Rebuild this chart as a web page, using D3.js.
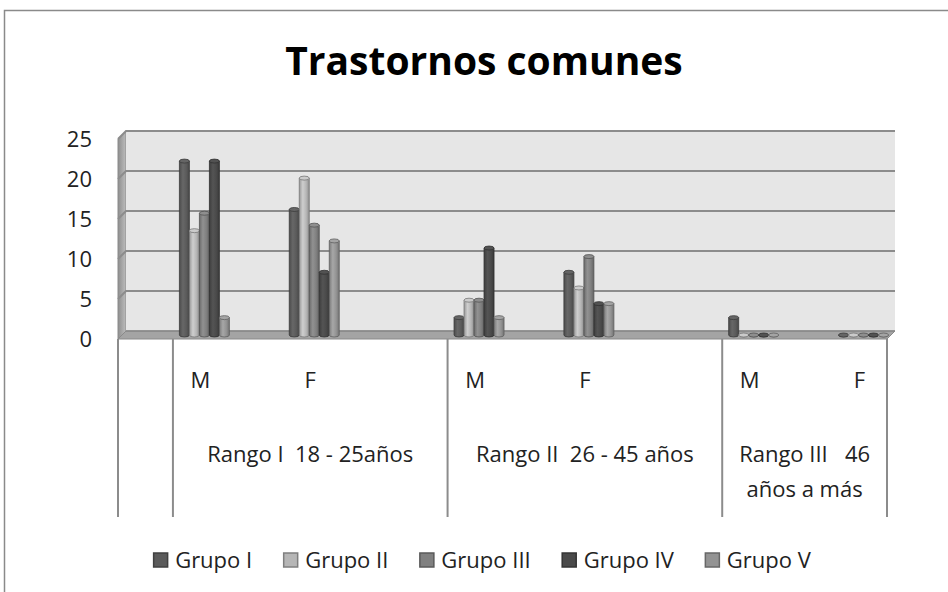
<!DOCTYPE html>
<html>
<head>
<meta charset="utf-8">
<script src="https://cdn.jsdelivr.net/npm/d3@7"></script>
<style>
  body { margin: 0; background: #fff; }
  text { font-family: "Open Sans", sans-serif; fill: #222; white-space: pre; }
</style>
</head>
<body>
<script>
const title = 'Trastornos comunes'

// x axis slots as in the sheet (empty rows included)
const slots = ['', 'M', '', 'F', '', '', 'M', '', 'F', '', '', 'M', '', 'F']
const slotRange = [0, 1, 1, 1, 1, 1, 2, 2, 2, 2, 2, 3, 3, 3]
const rangeLabels = [[''], ['Rango I  18 - 25años'], ['Rango II  26 - 45 años'], ['Rango III   46', 'años a más']]

const groups = ['Grupo I', 'Grupo II', 'Grupo III', 'Grupo IV', 'Grupo V']
const colors = ['#5b5b5b', '#b6b6b6', '#808080', '#4a4a4a', '#939393']

// values per group, one per slot (null = empty row)
const grupoI   = [null, 21.74, null, 15.69, null, null, 2.17, null, 7.84, null, null, 2.17, null, 0]
const grupoII  = [null, 13.04, null, 19.61, null, null, 4.35, null, 5.88, null, null, 0, null, 0]
const grupoIII = [null, 15.22, null, 13.73, null, null, 4.35, null, 9.80, null, null, 0, null, 0]
const grupoIV  = [null, 21.74, null, 7.84, null, null, 10.87, null, 3.92, null, null, 0, null, 0]
const grupoV   = [null, 2.17, null, 11.76, null, null, 2.17, null, 3.92, null, null, 0, null, 0]
const series = [grupoI, grupoII, grupoIII, grupoIV, grupoV]

const yTicks = [0, 5, 10, 15, 20, 25]

const W = 948, H = 592
const depth = 8
const gridColor = '#8c8c8c'

const svg = d3.select('body').append('svg')
  .attr('width', W)
  .attr('height', H)

// outer frame
svg.append('rect')
  .attr('x', 4.5).attr('y', 10.5)
  .attr('width', W + 20).attr('height', H + 20)
  .attr('fill', 'none')
  .attr('stroke', '#8a8a8a')
  .attr('stroke-width', 1.5)

svg.append('text')
  .attr('x', 484).attr('y', 75)
  .attr('text-anchor', 'middle')
  .style('font-size', '39px')
  .style('font-weight', 'bold')
  .style('fill', '#000')
  .text(title)

const x = d3.scaleBand().domain(d3.range(slots.length)).range([118, 887])
const y = d3.scaleLinear().domain([0, 25]).range([339, 139])
const inner = d3.scaleBand().domain(groups).range([-25, 25])

const x0 = x.range()[0], x1 = x.range()[1]
const yTop = y(25), yBase = y(0)

const defs = svg.append('defs')

const wallGrad = defs.append('linearGradient').attr('id', 'wallGrad')
wallGrad.append('stop').attr('offset', 0).attr('stop-color', '#8e8e8e')
wallGrad.append('stop').attr('offset', 1).attr('stop-color', '#bdbdbd')

// side wall, back wall, floor
svg.append('path')
  .attr('d', `M${x0},${yBase}L${x0},${yTop}L${x0 + depth},${yTop - depth}L${x0 + depth},${yBase - depth}Z`)
  .attr('fill', 'url(#wallGrad)')
  .attr('stroke', '#8a8a8a')

svg.append('rect')
  .attr('x', x0 + depth).attr('y', yTop - depth)
  .attr('width', x1 - x0).attr('height', yBase - yTop)
  .attr('fill', '#e6e6e6')

svg.append('path')
  .attr('d', `M${x0},${yBase}L${x0 + depth},${yBase - depth}L${x1 + depth},${yBase - depth}L${x1},${yBase}Z`)
  .attr('fill', '#a4a4a4')
  .attr('stroke', '#8a8a8a')

// gridlines on back wall and side wall
svg.selectAll('line.grid')
  .data(yTicks.filter(d => d > 0))
  .enter().append('path')
  .attr('d', d => `M${x0},${y(d)}L${x0 + depth},${y(d) - depth}L${x1 + depth},${y(d) - depth}`)
  .attr('fill', 'none')
  .attr('stroke', gridColor)
  .attr('stroke-width', 2)

svg.append('line')
  .attr('x1', x0 + depth).attr('x2', x1 + depth)
  .attr('y1', yBase - depth).attr('y2', yBase - depth)
  .attr('stroke', '#888').attr('stroke-width', 1.5)

// y axis labels
svg.selectAll('text.ytick')
  .data(yTicks)
  .enter().append('text')
  .attr('class', 'ytick')
  .attr('x', 92)
  .attr('y', d => y(d))
  .attr('dy', '0.35em')
  .attr('text-anchor', 'end')
  .style('font-size', '22px')
  .text(d => d)

// cylinder gradients
colors.forEach((c, i) => {
  const g = defs.append('linearGradient').attr('id', 'cyl' + i)
  g.append('stop').attr('offset', 0).attr('stop-color', d3.color(c).darker(0.5))
  g.append('stop').attr('offset', 0.35).attr('stop-color', d3.color(c).brighter(0.35))
  g.append('stop').attr('offset', 0.7).attr('stop-color', c)
  g.append('stop').attr('offset', 1).attr('stop-color', d3.color(c).darker(0.7))
})

const bars = []
slots.forEach((s, si) => {
  series.forEach((vals, gi) => {
    if (vals[si] !== null) bars.push({ slot: si, g: gi, v: vals[si] })
  })
})

const half = depth / 2
const cx = d => x(d.slot) + x.bandwidth() / 2 + half + inner(groups[d.g]) + inner.bandwidth() / 2
const rx = inner.bandwidth() / 2
const ry = 2

const bar = svg.append('g').selectAll('g.bar')
  .data(bars)
  .enter().append('g')

bar.append('path')
  .attr('d', d => {
    const yt = y(d.v) - half, yb = yBase - half, c = cx(d)
    return `M${c - rx},${yt}L${c - rx},${yb}A${rx},${ry} 0 0 0 ${c + rx},${yb}L${c + rx},${yt}Z`
  })
  .attr('fill', d => `url(#cyl${d.g})`)
  .attr('stroke', d => d3.color(colors[d.g]).darker(1.2))
  .attr('stroke-width', 0.8)

bar.append('ellipse')
  .attr('cx', cx)
  .attr('cy', d => y(d.v) - half)
  .attr('rx', rx)
  .attr('ry', ry)
  .attr('fill', d => d3.color(colors[d.g]).brighter(0.3))
  .attr('stroke', d => d3.color(colors[d.g]).darker(1.2))
  .attr('stroke-width', 0.8)

// category table below the floor
const bounds = [x0]
slotRange.forEach((r, i) => {
  if (i === slotRange.length - 1 || slotRange[i + 1] !== r) bounds.push(x(i) + x.bandwidth())
})

svg.selectAll('line.sep')
  .data(bounds)
  .enter().append('line')
  .attr('x1', d => d).attr('x2', d => d)
  .attr('y1', yBase).attr('y2', 517)
  .attr('stroke', gridColor)
  .attr('stroke-width', 2)

svg.selectAll('text.sex')
  .data(slots.map((s, i) => ({ s, i })).filter(d => d.s))
  .enter().append('text')
  .attr('x', d => x(d.i) + x.bandwidth() / 2)
  .attr('y', 380)
  .attr('dy', '0.35em')
  .attr('text-anchor', 'middle')
  .style('font-size', '22px')
  .text(d => d.s)

rangeLabels.forEach((lines, r) => {
  const idx = slotRange.map((v, i) => v === r ? i : -1).filter(i => i >= 0)
  const mid = (x(idx[0]) + x(idx[idx.length - 1]) + x.bandwidth()) / 2
  svg.append('text')
    .attr('text-anchor', 'middle')
    .style('font-size', '22px')
    .selectAll('tspan')
    .data(lines)
    .enter().append('tspan')
    .attr('x', mid)
    .attr('y', (d, i) => 454 + i * 35)
    .attr('dy', '0.35em')
    .text(d => d)
})

// legend
const legend = svg.append('g')
let lx = 0
const items = groups.map((name, i) => {
  const g = legend.append('g')
  g.append('rect')
    .attr('x', 0.5).attr('y', -7)
    .attr('width', 14).attr('height', 14)
    .attr('fill', colors[i])
    .attr('stroke', d3.color(colors[i]).darker(1))
    .attr('stroke-width', 1.5)
  const t = g.append('text')
    .attr('x', 22).attr('dy', '0.35em')
    .style('font-size', '22px')
    .text(name)
  const w = 22 + t.node().getComputedTextLength()
  g.attr('transform', `translate(${lx},0)`)
  lx += w + 31
  return w
})
const legendWidth = lx - 31
legend.attr('transform', `translate(${482 - legendWidth / 2},560)`)
</script>
</body>
</html>
